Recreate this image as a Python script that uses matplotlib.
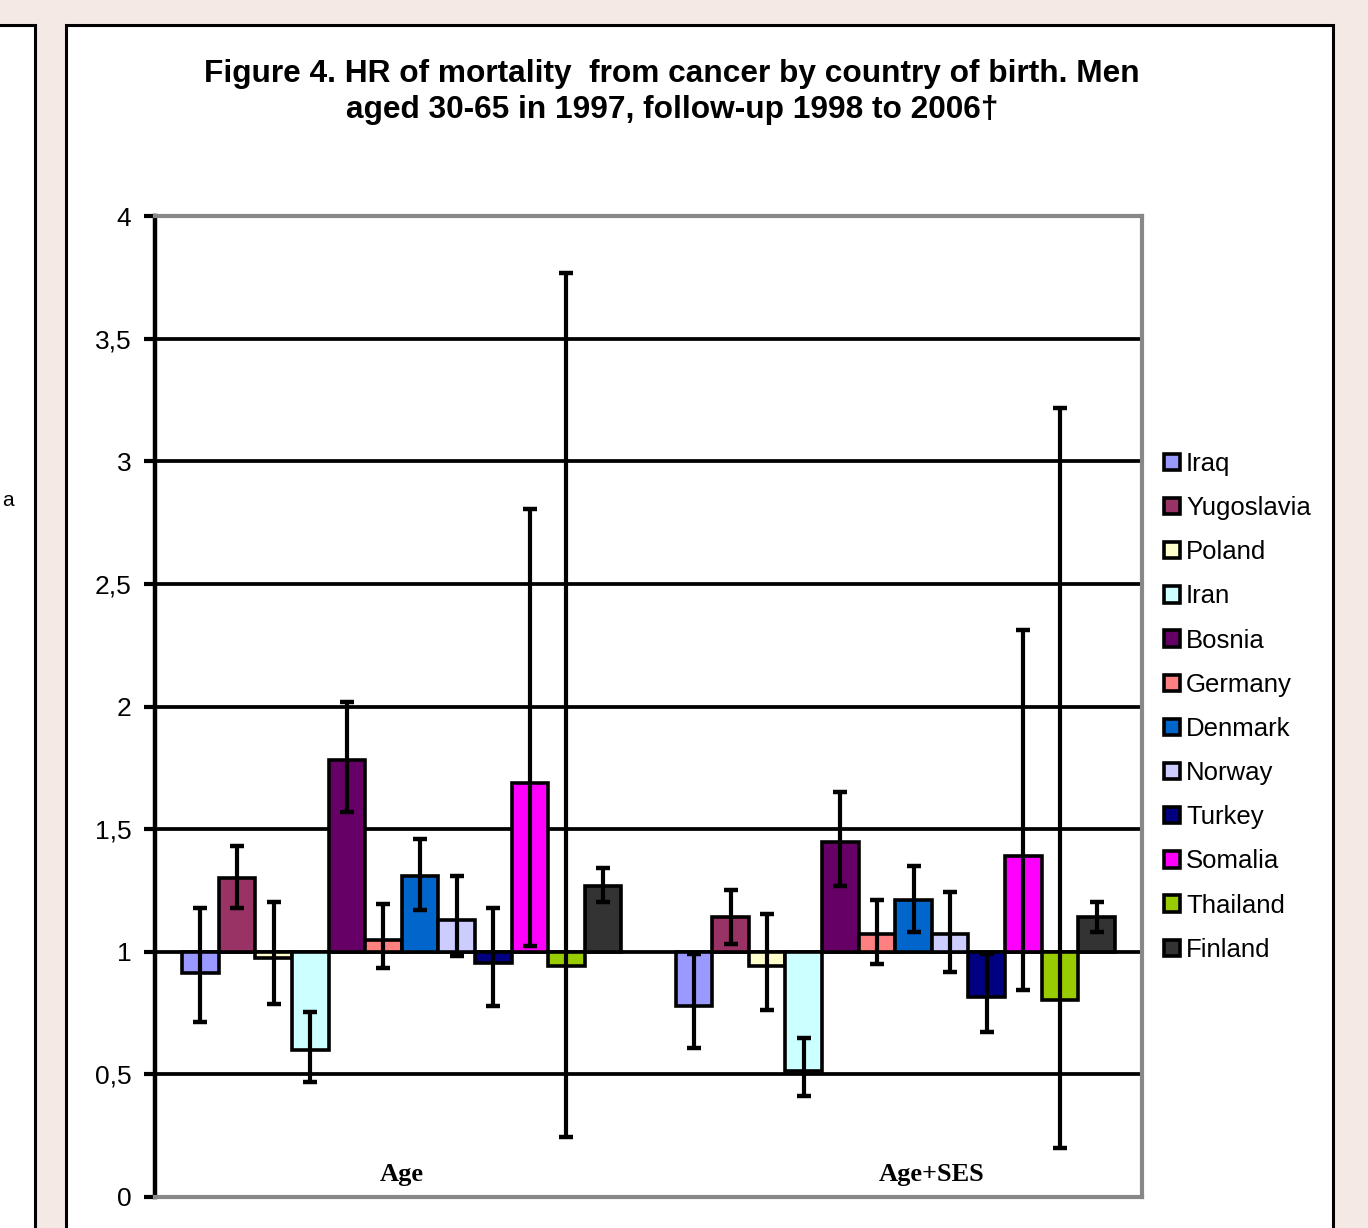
import matplotlib
matplotlib.use("Agg")
import matplotlib.pyplot as plt
import numpy as np
from matplotlib.patches import Rectangle

groups = ["Age", "Age+SES"]
countries = ["Iraq", "Yugoslavia", "Poland", "Iran", "Bosnia", "Germany",
             "Denmark", "Norway", "Turkey", "Somalia", "Thailand", "Finland"]
colors = ["#9999FF", "#993366", "#FFFFCC", "#CCFFFF", "#660066", "#FF8080",
          "#0066CC", "#CCCCFF", "#000080", "#FF00FF", "#99CC00", "#333333"]

hr_age = [0.915, 1.30, 0.974, 0.60, 1.78, 1.049, 1.307, 1.131, 0.956, 1.69, 0.943, 1.267]
lo_age = [0.714, 1.177, 0.788, 0.469, 1.57, 0.934, 1.171, 0.984, 0.78, 1.022, 0.245, 1.204]
hi_age = [1.177, 1.43, 1.204, 0.755, 2.018, 1.195, 1.46, 1.307, 1.177, 2.804, 3.767, 1.34]

hr_ses = [0.777, 1.14, 0.94, 0.514, 1.449, 1.072, 1.212, 1.072, 0.815, 1.389, 0.804, 1.14]
lo_ses = [0.607, 1.031, 0.763, 0.412, 1.267, 0.95, 1.079, 0.917, 0.672, 0.844, 0.20, 1.08]
hi_ses = [0.99, 1.253, 1.154, 0.65, 1.65, 1.21, 1.348, 1.242, 0.99, 2.31, 3.216, 1.203]

yticks = [0, 0.5, 1, 1.5, 2, 2.5, 3, 3.5, 4]
ytick_labels = ["0", "0,5", "1", "1,5", "2", "2,5", "3", "3,5", "4"]

W, H = 1368, 1228
fig = plt.figure(figsize=(W / 100, H / 100), dpi=100)
fig.patch.set_facecolor("#F5E9E6")

# panels
fig.patches.append(Rectangle((66 / W, -0.05), (1333 - 66) / W, 1 - 25 / H + 0.05,
                             transform=fig.transFigure, facecolor="white",
                             edgecolor="black", linewidth=2.2, zorder=-10))
fig.patches.append(Rectangle((-0.01, -0.05), 35 / W + 0.01, 1 - 25 / H + 0.05,
                             transform=fig.transFigure, facecolor="white",
                             edgecolor="black", linewidth=2.2, zorder=-10))
fig.text(2 / W, 1 - 500 / H, "a", fontsize=15, family="Liberation Sans",
         va="center", ha="left")

ax = fig.add_axes([155 / W, 1 - 1197 / H, (1142 - 155) / W, (1197 - 216) / H])
ax.set_zorder(5)
ax.set_facecolor("white")

n = len(countries)
group_w = 0.89
bw = group_w / n
x = np.arange(len(groups))

hr = np.array([hr_age, hr_ses])
lo = np.array([lo_age, lo_ses])
hi = np.array([hi_age, hi_ses])

for i in range(n):
    xs = x - group_w / 2 + bw * (i + 0.5)
    vals = hr[:, i]
    ax.bar(xs, vals - 1, bottom=1, width=bw, color=colors[i], edgecolor="black",
           linewidth=2.6, zorder=3, label=countries[i])
    ax.errorbar(xs, vals, yerr=[vals - lo[:, i], hi[:, i] - vals], fmt="none",
                ecolor="black", elinewidth=3.0, capsize=4.8, capthick=3.2, zorder=4)

ax.set_xlim(-0.5, 1.5)
ax.set_ylim(0, 4)
ax.set_yticks(yticks)
ax.set_yticklabels(ytick_labels, fontsize=19, family="Liberation Sans")
ax.set_xticks([])
for yv in yticks[1:-1]:
    ax.axhline(yv, color="black", linewidth=2.7, zorder=1)

for side in ["top", "right", "bottom"]:
    ax.spines[side].set_color("#888888")
    ax.spines[side].set_linewidth(3)
ax.spines["left"].set_color("black")
ax.spines["left"].set_linewidth(3.2)
ax.tick_params(axis="y", direction="out", length=8, width=3, pad=9, colors="black")

label_offsets = [0.0, 0.073]
for xi, g, off in zip(x, groups, label_offsets):
    ax.text(xi + off, 0.09, g, ha="center", va="center", fontsize=19,
            family="Liberation Serif", fontweight="bold", zorder=5)

leg = ax.legend(loc="upper left", bbox_to_anchor=(1.012, 0.770), frameon=False,
                prop={"family": "Liberation Sans", "size": 18.5},
                handlelength=0.6, handleheight=0.6, handletextpad=0.25,
                labelspacing=0.785, borderaxespad=0)
for h in leg.legend_handles:
    h.set_linewidth(2.6)

fig.text(672 / W, 1 - 92 / H,
         "Figure 4. HR of mortality  from cancer by country of birth. Men\naged 30-65 in 1997, follow-up 1998 to 2006\u2020",
         ha="center", va="center", fontsize=22.8, fontweight="bold",
         family="Liberation Sans", linespacing=1.25)

fig.savefig("out.png", dpi=100, facecolor=fig.get_facecolor())
